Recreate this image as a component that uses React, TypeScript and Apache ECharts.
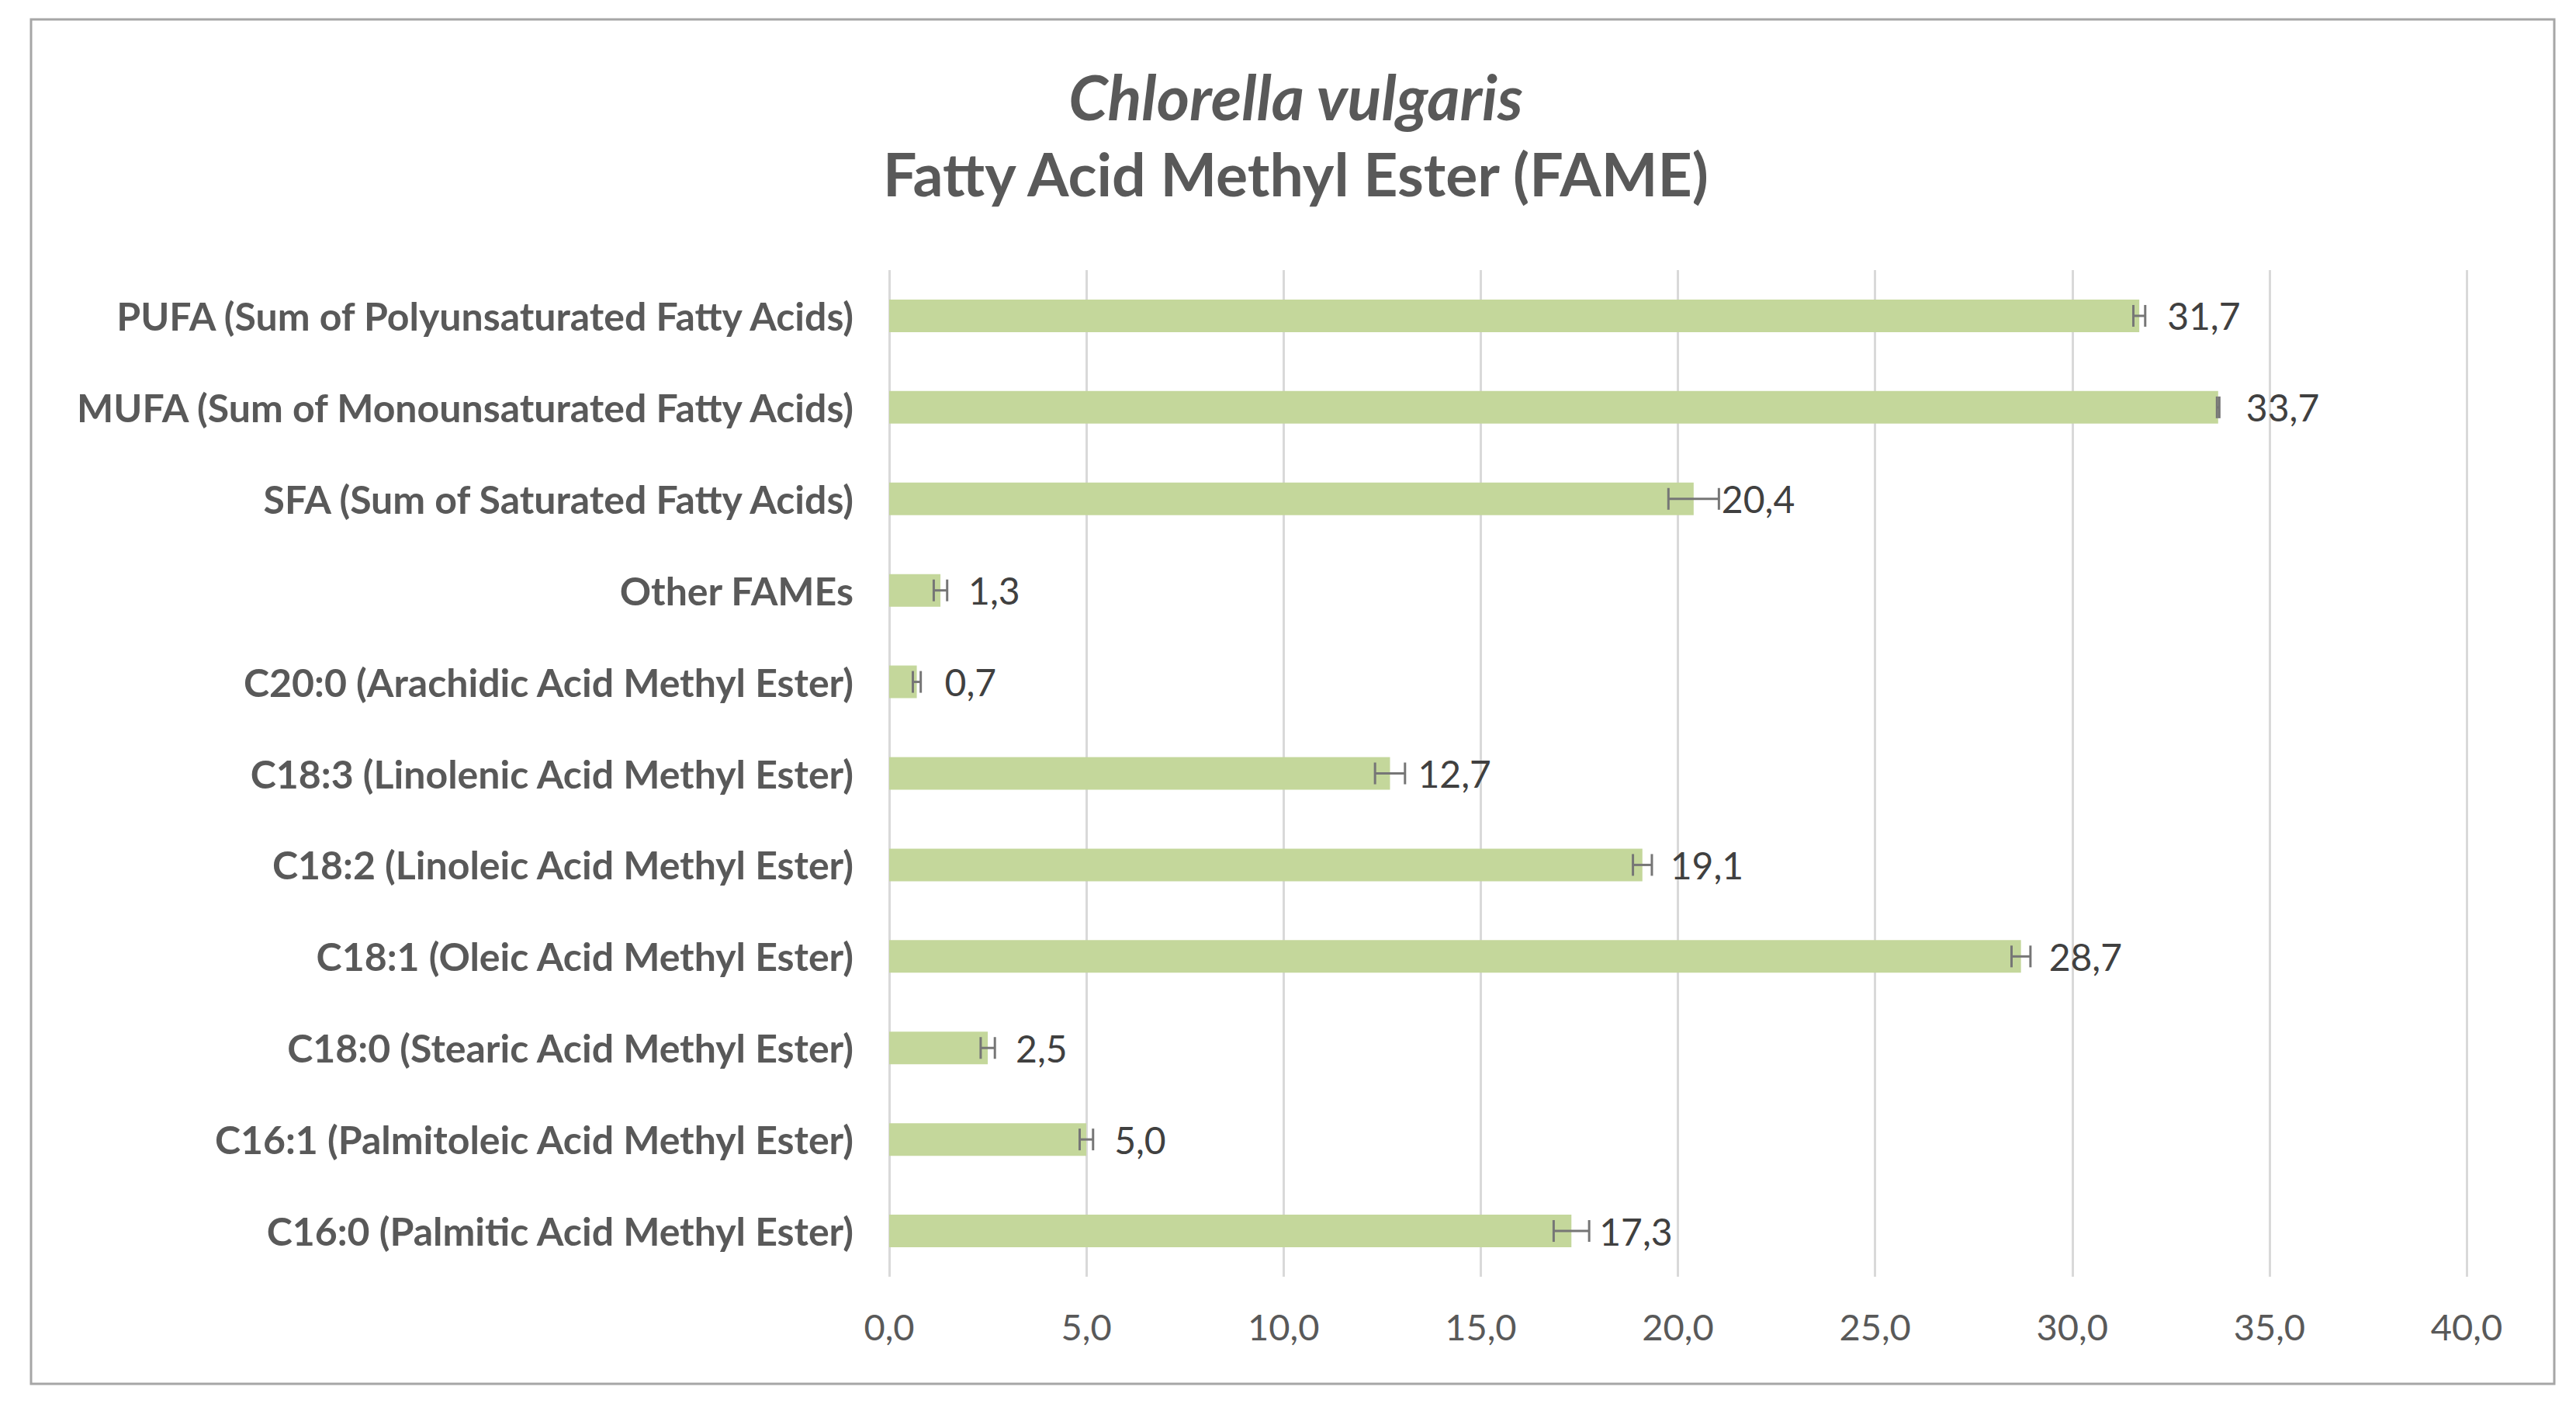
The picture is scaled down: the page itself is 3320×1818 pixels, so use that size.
import React, { useEffect, useRef } from "react";
import * as echarts from "echarts";

const categories = [
  "C16:0 (Palmitic Acid Methyl Ester)",
  "C16:1 (Palmitoleic Acid Methyl Ester)",
  "C18:0 (Stearic Acid Methyl Ester)",
  "C18:1 (Oleic Acid Methyl Ester)",
  "C18:2 (Linoleic Acid Methyl Ester)",
  "C18:3 (Linolenic Acid Methyl Ester)",
  "C20:0 (Arachidic Acid Methyl Ester)",
  "Other FAMEs",
  "SFA (Sum of Saturated Fatty Acids)",
  "MUFA (Sum of Monounsaturated Fatty Acids)",
  "PUFA (Sum of Polyunsaturated Fatty Acids)",
];
const values = [17.3, 5.0, 2.5, 28.7, 19.1, 12.7, 0.7, 1.3, 20.4, 33.7, 31.7];
const errors = [0.45, 0.17, 0.18, 0.24, 0.24, 0.38, 0.1, 0.17, 0.64, 0.03, 0.15];
const xTicks = { min: 0, max: 40, interval: 5 };
const titleLine1 = "Chlorella vulgaris";
const titleLine2 = "Fatty Acid Methyl Ester (FAME)";

const FONT = "Lato";
const fmt = (v: number) => v.toFixed(1).replace(".", ",");

export default function App() {
  const ref = useRef<HTMLDivElement>(null);
  useEffect(() => {
    if (!ref.current) return;
    const chart = echarts.init(ref.current, null, { renderer: "svg" });
    const errData = values.map((v, i) => [i, v - errors[i], v + errors[i]]);
    chart.setOption({
      animation: false,
      backgroundColor: "#ffffff",
      textStyle: { fontFamily: FONT },
      graphic: [
        {
          type: "rect",
          shape: { x: 40, y: 25, width: 3252, height: 1758 },
          style: { fill: "none", stroke: "#a6a6a6", lineWidth: 3 },
          z: -10,
        },
        {
          type: "text",
          x: 1670,
          y: 123,
          style: {
            text: titleLine1,
            fontFamily: FONT,
            fontSize: 81,
            fontWeight: "bold",
            fontStyle: "italic",
            fill: "#595959",
            align: "center",
            verticalAlign: "middle",
          },
        },
        {
          type: "text",
          x: 1670,
          y: 223,
          style: {
            text: titleLine2,
            fontFamily: FONT,
            fontSize: 77,
            fontWeight: "bold",
            fill: "#595959",
            align: "center",
            verticalAlign: "middle",
          },
        },
      ],
      grid: { left: 1146, right: 141, top: 348, bottom: 173, containLabel: false },
      xAxis: {
        type: "value",
        min: xTicks.min,
        max: xTicks.max,
        interval: xTicks.interval,
        axisLine: { show: false },
        axisTick: { show: false },
        splitLine: { show: true, lineStyle: { color: "#d9d9d9", width: 3 } },
        axisLabel: {
          fontFamily: FONT,
          fontSize: 47,
          color: "#595959",
          margin: 40,
          formatter: (v: number) => fmt(v),
        },
      },
      yAxis: {
        type: "category",
        data: categories,
        axisLine: { show: false },
        axisTick: { show: false },
        axisLabel: {
          fontFamily: FONT,
          fontSize: 50,
          fontWeight: "bold",
          color: "#595959",
          margin: 46,
        },
      },
      series: [
        {
          type: "bar",
          data: values,
          barWidth: 42,
          itemStyle: { color: "#C4D79B" },
          label: {
            show: true,
            position: "right",
            distance: 36,
            fontFamily: FONT,
            fontSize: 48,
            color: "#404040",
            formatter: (p: any) => fmt(p.value),
          },
          z: 2,
        },
        {
          type: "custom",
          data: errData,
          z: 5,
          renderItem: (params: any, api: any) => {
            const idx = api.value(0);
            const lo = api.coord([api.value(1), idx]);
            const hi = api.coord([api.value(2), idx]);
            const h = 14;
            const st = { stroke: "#767676", lineWidth: 3 };
            return {
              type: "group",
              children: [
                { type: "line", shape: { x1: lo[0], y1: lo[1], x2: hi[0], y2: hi[1] }, style: st },
                { type: "line", shape: { x1: lo[0], y1: lo[1] - h, x2: lo[0], y2: lo[1] + h }, style: st },
                { type: "line", shape: { x1: hi[0], y1: hi[1] - h, x2: hi[0], y2: hi[1] + h }, style: st },
              ],
            };
          },
        },
      ],
    });
    return () => chart.dispose();
  }, []);
  return (
    <div
      ref={ref}
      style={{ position: "fixed", left: 0, top: 0, width: 3320, height: 1818 }}
    />
  );
}
